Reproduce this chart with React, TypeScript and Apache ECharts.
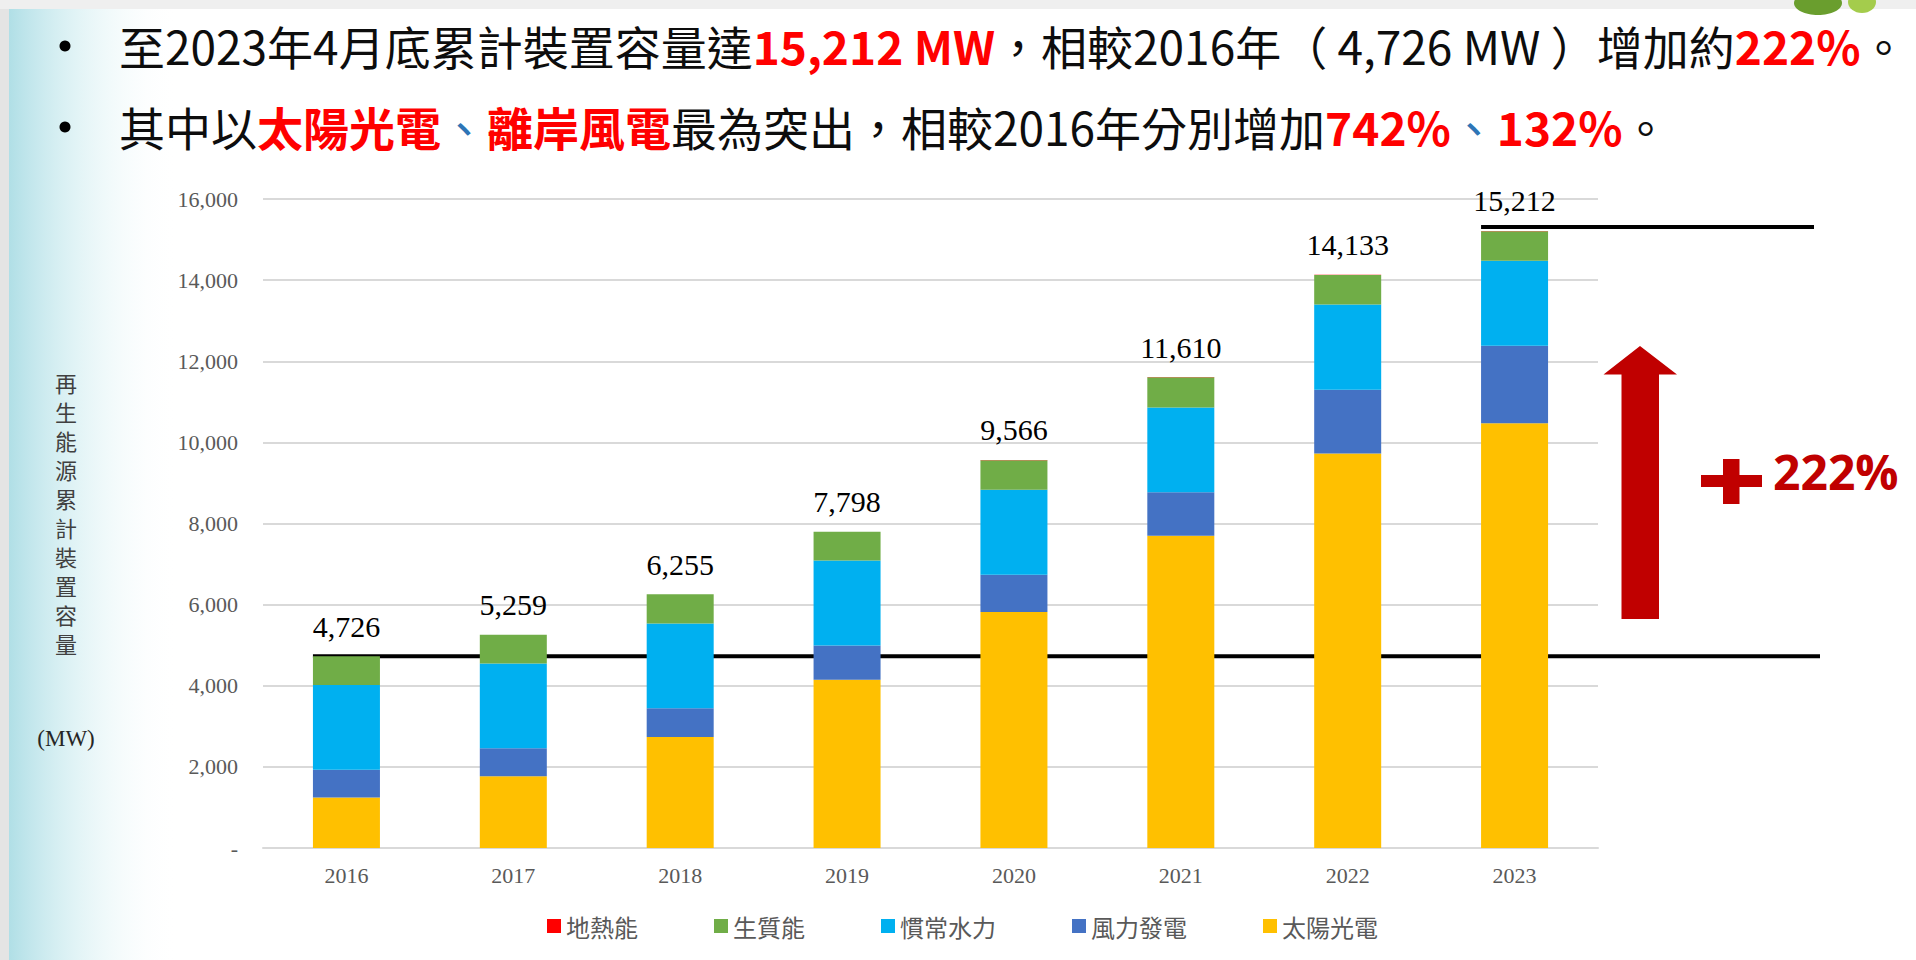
import React, { useEffect, useRef } from 'react';
import * as echarts from 'echarts';

// ---- data ----
const years = ['2016', '2017', '2018', '2019', '2020', '2021', '2022', '2023'];
const solar = [1245, 1768, 2738, 4150, 5817, 7700, 9724, 10470];
const wind = [682, 692, 705, 845, 922, 1070, 1572, 1914];
const hydro = [2089, 2090, 2090, 2093, 2093, 2091, 2101, 2091];
const biomass = [710, 709, 721, 709, 729, 744, 731, 730];
const geothermal = [0, 0, 1, 1, 5, 5, 5, 7];
const yTickLabels = ['-', '2,000', '4,000', '6,000', '8,000', '10,000', '12,000', '14,000', '16,000'];
const seriesNames = ['太陽光電', '風力發電', '慣常水力', '生質能', '地熱能'];
const seriesValues = [solar, wind, hydro, biomass, geothermal];
const seriesColors = ['#FFC000', '#4472C4', '#00B0F0', '#70AD47', '#FF0000'];
const legendOrder = ['地熱能', '生質能', '慣常水力', '風力發電', '太陽光電'];
const yAxisTitle = '再生能源累計裝置容量';
const unitLabel = '(MW)';
const growthLabel = '222%';
const headline1 = ['至2023年4月底累計裝置容量達', '15,212 MW', '，相較2016年（ 4,726 MW ）增加約', '222%', '。'];
const headline2 = ['其中以', '太陽光電', '、', '離岸風電', '最為突出，相較2016年分別增加', '742%', '、', '132%', '。'];

const totals = years.map((_, i) => seriesValues.reduce((s, arr) => s + arr[i], 0));

const SERIF = "'Times New Roman', 'Liberation Serif', serif";
const CJK = "'Noto Sans CJK TC', 'Noto Sans', sans-serif";
const HEAD_SIZE = 46;

export default function App() {
  const ref = useRef<HTMLDivElement>(null);

  useEffect(() => {
    if (!ref.current) return;
    const chart = echarts.init(ref.current, null, { renderer: 'svg' });
    const barWidth = 67;

    chart.setOption({
      animation: false,
      backgroundColor: '#ffffff',
      grid: { left: 263, right: 318, top: 199, bottom: 112, containLabel: false },
      legend: {
        data: legendOrder,
        left: 542,
        top: 909,
        icon: 'rect',
        itemWidth: 14,
        itemHeight: 14,
        itemGap: 76,
        textStyle: { fontFamily: CJK, fontSize: 24, color: '#595959' },
      },
      xAxis: {
        type: 'category',
        data: years,
        axisLine: { lineStyle: { color: '#D9D9D9', width: 2 } },
        axisTick: { show: false },
        axisLabel: { fontFamily: SERIF, fontSize: 22, color: '#595959', margin: 16 },
      },
      yAxis: {
        type: 'value',
        min: 0,
        max: 16000,
        interval: 2000,
        axisLine: { show: false },
        axisTick: { show: false },
        splitLine: { lineStyle: { color: '#D9D9D9', width: 2 } },
        axisLabel: {
          fontFamily: SERIF,
          fontSize: 22,
          color: '#595959',
          margin: 25,
          formatter: (v: number) => yTickLabels[Math.round(v / 2000)] ?? '',
        },
      },
      series: seriesNames.map((name, si) => ({
        name,
        type: 'bar',
        stack: 'total',
        barWidth,
        data: seriesValues[si],
        itemStyle: { color: seriesColors[si] },
        z: 2,
        label:
          si === seriesNames.length - 1
            ? {
                show: true,
                position: 'top',
                distance: 15,
                fontFamily: SERIF,
                fontSize: 30,
                color: '#000000',
                formatter: (p: any) => totals[p.dataIndex].toLocaleString('en-US'),
              }
            : { show: false },
      })),
    });

    const p0 = chart.convertToPixel({ gridIndex: 0 }, [0, totals[0]]) as number[];
    const pN = chart.convertToPixel({ gridIndex: 0 }, [years.length - 1, totals[years.length - 1]]) as number[];
    const half = barWidth / 2;

    chart.setOption({
      graphic: [
        // background decorations
        { type: 'rect', z: -10, silent: true, shape: { x: 0, y: 0, width: 9, height: 960 }, style: { fill: '#E4E4E4' } },
        {
          type: 'rect', z: -9, silent: true,
          shape: { x: 9, y: 0, width: 170, height: 960 },
          style: {
            fill: new echarts.graphic.LinearGradient(0, 0, 1, 0, [
              { offset: 0, color: 'rgba(150,212,222,0.75)' },
              { offset: 0.45, color: 'rgba(200,234,238,0.45)' },
              { offset: 1, color: 'rgba(255,255,255,0)' },
            ]),
          },
        },
        { type: 'rect', z: -8, silent: true, shape: { x: 0, y: 0, width: 1916, height: 9 }, style: { fill: '#EFEFEF' } },
        { type: 'ellipse', z: -7, silent: true, shape: { cx: 1818, cy: 3, rx: 24, ry: 12 }, style: { fill: '#6A9E2E' } },
        { type: 'ellipse', z: -7, silent: true, shape: { cx: 1862, cy: 2, rx: 14, ry: 11 }, style: { fill: '#A4CC4C' } },

        // headline bullets
        { type: 'circle', shape: { cx: 65, cy: 46, r: 5.5 }, style: { fill: '#000' } },
        { type: 'circle', shape: { cx: 65, cy: 127, r: 5.5 }, style: { fill: '#000' } },
        {
          type: 'text', x: 119, y: 45,
          style: {
            text: `{n|${headline1[0]}}{r|${headline1[1]}}{n|${headline1[2]}}{r|${headline1[3]}}{n|${headline1[4]}}`,
            verticalAlign: 'middle',
            fontFamily: CJK,
            fontSize: HEAD_SIZE,
            rich: {
              n: { fontFamily: CJK, fontSize: HEAD_SIZE, fill: '#0D0D0D' },
              r: { fontFamily: CJK, fontSize: HEAD_SIZE, fill: '#FF0000', fontWeight: 'bold' },
            },
          },
        },
        {
          type: 'text', x: 119, y: 126,
          style: {
            text:
              `{n|${headline2[0]}}{r|${headline2[1]}}{b|${headline2[2]}}{r|${headline2[3]}}` +
              `{n|${headline2[4]}}{r|${headline2[5]}}{b|${headline2[6]}}{r|${headline2[7]}}{n|${headline2[8]}}`,
            verticalAlign: 'middle',
            fontFamily: CJK,
            fontSize: HEAD_SIZE,
            rich: {
              n: { fontFamily: CJK, fontSize: HEAD_SIZE, fill: '#0D0D0D' },
              r: { fontFamily: CJK, fontSize: HEAD_SIZE, fill: '#FF0000', fontWeight: 'bold' },
              b: { fontFamily: CJK, fontSize: HEAD_SIZE, fill: '#2E75B6' },
            },
          },
        },

        // y axis title
        {
          type: 'text', x: 66, y: 367,
          style: {
            text: yAxisTitle.split('').join('\n'),
            fontFamily: CJK, fontSize: 22, lineHeight: 29, fill: '#404040',
            align: 'center', verticalAlign: 'top',
          },
        },
        {
          type: 'text', x: 66, y: 738,
          style: { text: unitLabel, fontFamily: SERIF, fontSize: 23, fill: '#262626', align: 'center', verticalAlign: 'middle' },
        },

        // reference lines
        {
          type: 'line', z: 1,
          shape: { x1: p0[0] - half, y1: p0[1], x2: 1820, y2: p0[1] },
          style: { stroke: '#000', lineWidth: 4 },
        },
        {
          type: 'line', z: 100,
          shape: { x1: pN[0] - half, y1: pN[1] - 4, x2: 1814, y2: pN[1] - 4 },
          style: { stroke: '#000', lineWidth: 4 },
        },

        // growth arrow
        {
          type: 'polygon', z: 100,
          shape: {
            points: [
              [1640, 346], [1677, 374.5], [1659, 374.5], [1659, 619],
              [1621.5, 619], [1621.5, 374.5], [1603.5, 374.5],
            ],
          },
          style: { fill: '#C00000' },
        },
        { type: 'rect', z: 100, shape: { x: 1701, y: 475, width: 61, height: 12 }, style: { fill: '#C00000' } },
        { type: 'rect', z: 100, shape: { x: 1723, y: 459, width: 16.5, height: 45 }, style: { fill: '#C00000' } },
        {
          type: 'text', z: 100, x: 1773, y: 471,
          style: {
            text: growthLabel, fontFamily: "'Open Sans', 'Noto Sans', sans-serif", fontWeight: 'bold',
            fontSize: 48, fill: '#C00000', verticalAlign: 'middle',
          },
        },
      ],
    });

    return () => chart.dispose();
  }, []);

  return <div ref={ref} style={{ position: 'absolute', left: 0, top: 0, width: 1916, height: 960 }} />;
}
